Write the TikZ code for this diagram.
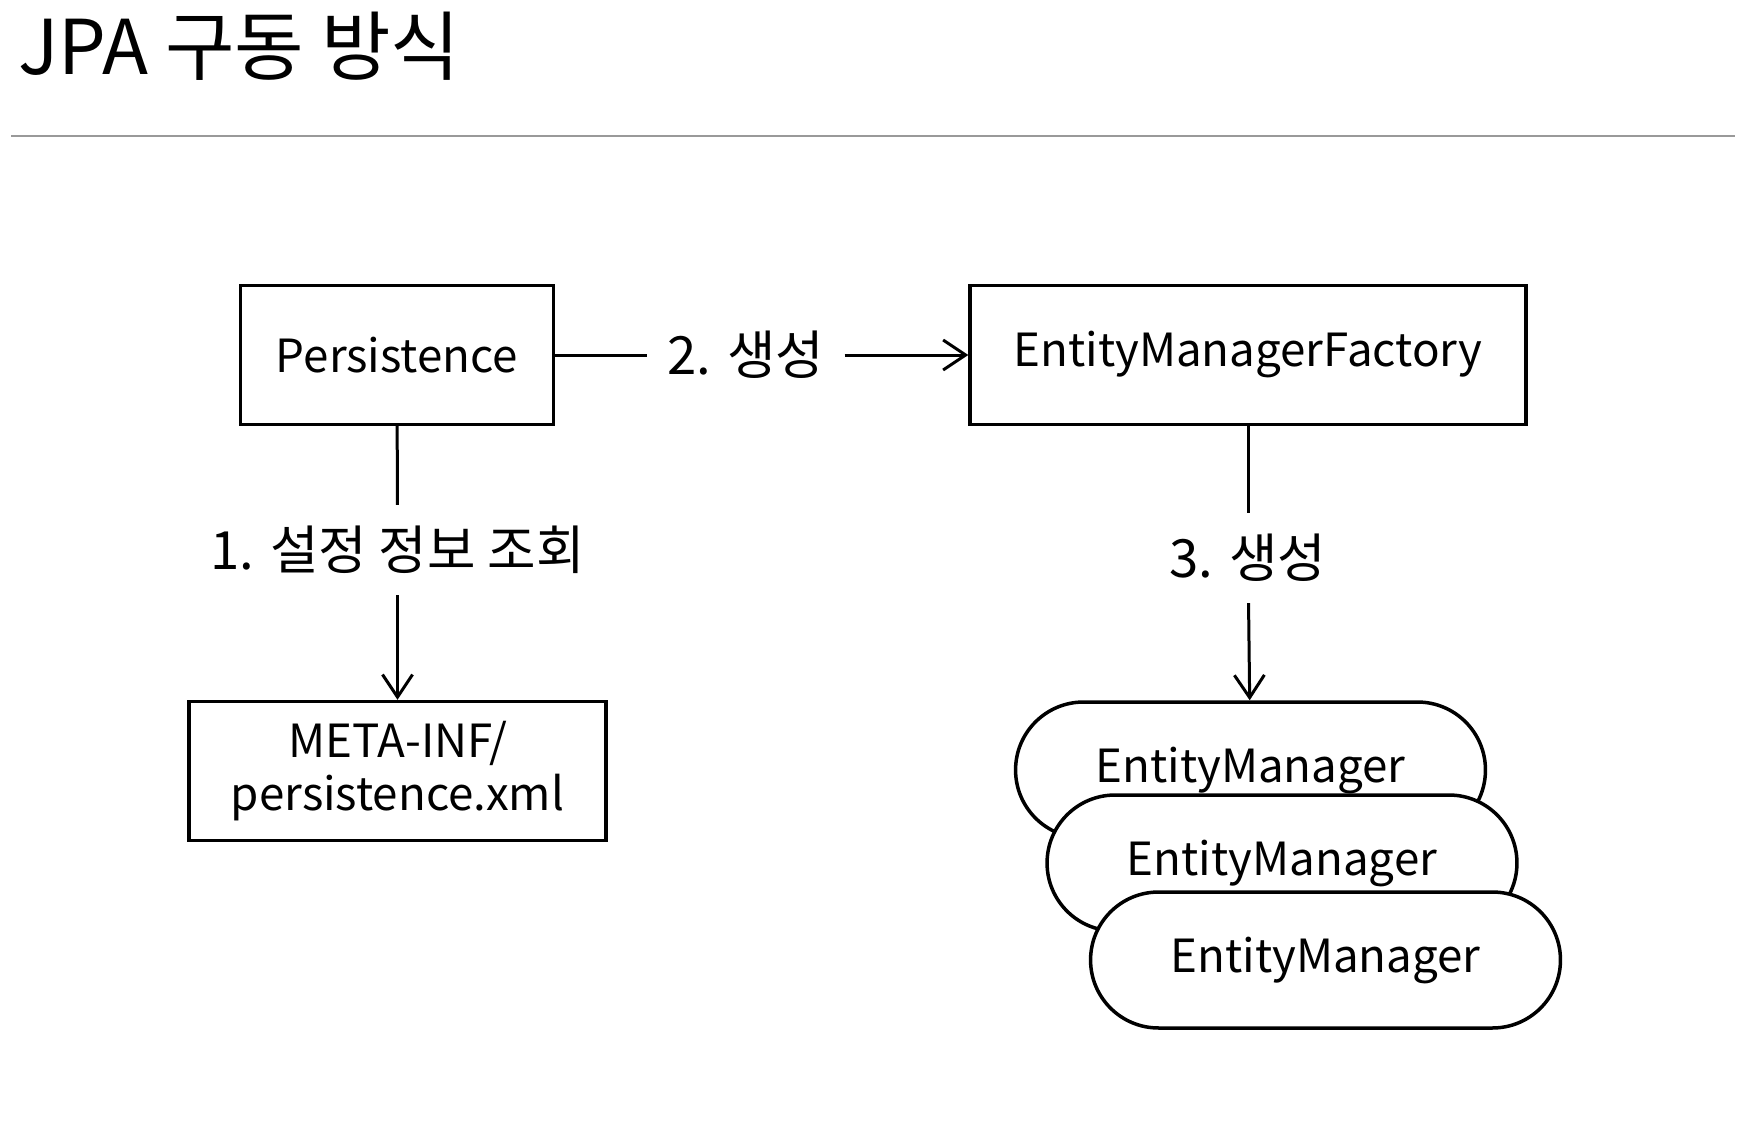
\documentclass[tikz,border=0pt]{standalone}
\usepackage{fontspec}
\setmainfont{Noto Sans CJK KR}
\usetikzlibrary{arrows.meta}
\tikzset{
	box/.style={draw, line width=0.07cm, minimum height=2.78cm, inner sep=0pt, align=center, font=\fontsize{26}{30}\selectfont},
	pill/.style={box, fill=white, minimum width=9.4cm, minimum height=2.72cm, rounded corners=1.36cm},
	lbl/.style={inner xsep=0.4cm, inner ysep=0.42cm, font=\fontsize{30}{34}\selectfont},
	conn/.style={line width=0.06cm},
	arr/.style={conn, -{Straight Barb[length=0.45cm, width=0.6cm, line width=0.06cm]}}
}

\begin{document}
\begin{tikzpicture}[x=0.02cm, y=-0.02cm]
		%%%%% START %%%%%
		\useasboundingbox (0, 0) rectangle (1746, 1142);
		
		\node[anchor=base west, inner sep=0pt, font=\fontsize{43}{46}\selectfont] (title) at (18, 75) {JPA 구동 방식};
		\draw[line width=0.04cm, color=black!40] (11, 136) -- (1735, 136);
		
		\node[box, minimum width=6.26cm] (pers) at (397, 355) {Persistence};
		\node[box, minimum width=11.12cm] (emf) at (1248, 355) {EntityManagerFactory};
		\node[box, minimum width=8.34cm] (meta) at (397.5, 771) {META-INF/\\persistence.xml};
		
		\node[pill] (em1) at (1250.5, 770) {EntityManager};
		\node[pill] (em2) at (1282, 863) {EntityManager};
		\node[pill] (em3) at (1325.5, 960) {EntityManager};
		
		\node[lbl] (gen1) at (397.5, 550) {1. 설정 정보 조회};
		\node[lbl] (gen2) at (746, 355) {2. 생성};
		\node[lbl] (gen3) at (1248, 558) {3. 생성};
		
		\draw[conn] (pers) -- (gen1);
		\draw[arr] (gen1) -- (meta);
		\draw[conn] (pers) -- (gen2);
		\draw[arr] (gen2) -- (emf);
		\draw[conn] (emf) -- (gen3);
		\draw[arr] (gen3) -- (em1);
		%%%%% END %%%%%
	\end{tikzpicture}
\end{document}
